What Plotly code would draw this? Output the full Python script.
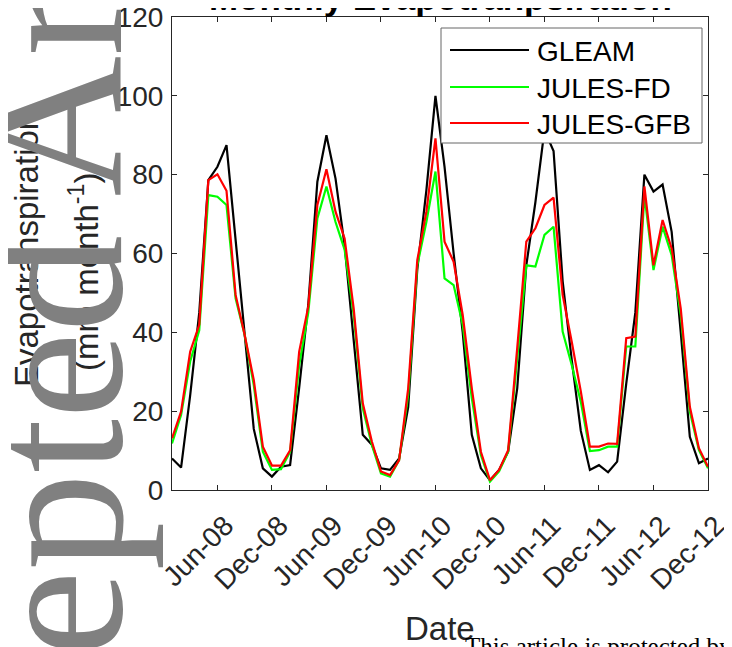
import plotly.graph_objects as go

# ---------------- data ----------------
month_labels = [f"{m}-{y:02d}" for y in range(8, 13)
                for m in ["Jan", "Feb", "Mar", "Apr", "May", "Jun",
                          "Jul", "Aug", "Sep", "Oct", "Nov", "Dec"]]
month_index = list(range(len(month_labels)))

gleam = [8.0, 5.7, 24, 45, 78.6, 82, 87.5, 64, 40, 15.5, 5.5, 3.4,
         5.9, 6.3, 26, 47, 78.2, 90, 79, 62, 38, 14, 11.5, 5.5,
         5.1, 8, 21, 56, 76, 100, 82, 60, 40, 14, 5.5, 2.5,
         5.1, 9.7, 25.8, 57, 73, 91.3, 86, 53, 33, 15, 5.1, 6.3,
         4.5, 7.2, 27, 45, 80, 75.7, 77.5, 65.5, 40, 13.5, 6.8, 8]

jules_fd = [11.8, 19, 32.6, 40.5, 74.8, 74.4, 72.3, 48.6, 39.3, 26.6, 9.7, 5.1,
            5.3, 9.7, 31.7, 45, 68.9, 77, 68, 61, 44.4, 20.7, 11.4, 4.2,
            3.4, 7.6, 24.1, 57, 68, 80.8, 53.7, 52, 41.9, 23.3, 8.9, 2.1,
            4.7, 9.7, 33.4, 57, 56.7, 64.7, 66.8, 40.2, 31.7, 22.4, 9.9, 10.1,
            11, 11, 36.4, 36.4, 74.8, 55.8, 66.8, 59.6, 44.4, 19.9, 10.1, 5.5]

jules_gfb = [13.1, 19.9, 35.1, 41.9, 78.6, 80.1, 75.9, 49.5, 39.3, 27.9, 11, 6.2,
             6.2, 10.1, 35.1, 46.5, 72.3, 81.4, 70.6, 63.8, 46, 22, 12.3, 4.7,
             3.8, 7.6, 25.8, 58.3, 70.6, 89.2, 63, 57.9, 44.4, 25.8, 9.7, 2.5,
             5.1, 10.1, 36, 63, 66.4, 72.3, 74.2, 49.5, 37.6, 25, 11, 11,
             11.8, 11.7, 38.5, 38.9, 77, 57, 68.5, 61.3, 46, 21.1, 10.6, 5.9]

series_names = ["GLEAM", "JULES-FD", "JULES-GFB"]
series_colors = ["#000000", "#00FF00", "#FF0000"]

tick_labels = ["Jun-08", "Dec-08", "Jun-09", "Dec-09", "Jun-10",
               "Dec-10", "Jun-11", "Dec-11", "Jun-12", "Dec-12"]
tick_positions = [month_labels.index(t) for t in tick_labels]
y_ticks = [0, 20, 40, 60, 80, 100, 120]

# ---------------- layout geometry ----------------
OFF = 8                      # default page (body) margin around the figure div
W, H = 732 - OFF, 647 - OFF
PL, PR, PT, PB = 172, 708, 17, 490   # plot area in page pixels


def px(xp):
    return (xp - PL) / (PR - PL)


def py(yp):
    return (PB - yp) / (PB - PT)


fig = go.Figure()
for name, vals, col in zip(series_names, [gleam, jules_fd, jules_gfb], series_colors):
    fig.add_trace(go.Scatter(x=month_index, y=vals, mode="lines", name=name,
                             line=dict(color=col, width=2.2), showlegend=False))

axis_col = "#262626"
tickfont = dict(family="Liberation Sans, Arial", size=28, color=axis_col)

fig.update_layout(
    width=W, height=H,
    margin=dict(l=PL - OFF, r=W - (PR - OFF), t=PT - OFF, b=H - (PB - OFF), pad=0),
    paper_bgcolor="white", plot_bgcolor="white",
    xaxis=dict(range=[0, len(month_index) - 1], tickmode="array",
               tickvals=tick_positions, ticktext=tick_labels, tickangle=-45,
               ticks="inside", ticklen=5, automargin=False, ticklabeloverflow="allow",
               ticklabelstandoff=7, ticklabelshift=8,
               tickcolor=axis_col, showline=True, linecolor=axis_col, linewidth=1,
               mirror="ticks", showgrid=False, zeroline=False, tickfont=tickfont),
    yaxis=dict(range=[0, 120], tickmode="array", tickvals=y_ticks, ticks="inside",
               ticklen=5, automargin=False, ticklabeloverflow="allow",
               ticklabelstandoff=2,
               tickcolor=axis_col, showline=True, linecolor=axis_col, linewidth=1,
               mirror="ticks", showgrid=False, zeroline=False, tickfont=tickfont),
)

# legend (custom drawn, matching the reference's long line samples)
fig.add_shape(type="rect", xref="paper", yref="paper",
              x0=px(441), x1=px(702), y0=py(143), y1=py(28),
              line=dict(color="#666666", width=1), fillcolor="white", layer="above")
for k, (name, col) in enumerate(zip(series_names, series_colors)):
    yc = [50, 87, 123][k]
    fig.add_shape(type="line", xref="paper", yref="paper",
                  x0=px(450), x1=px(529), y0=py(yc), y1=py(yc),
                  line=dict(color=col, width=2.2), layer="above")
    fig.add_annotation(text=name, xref="paper", yref="paper", x=px(535), y=py(yc + 1),
                       xanchor="left", yanchor="middle", showarrow=False,
                       font=dict(family="Liberation Sans, Arial", size=28, color="black"))

# y axis title (two lines)
fig.add_annotation(text="Evapotranspiration", xref="paper", yref="paper",
                   x=px(26), y=py(250), textangle=-90, showarrow=False,
                   xanchor="center", yanchor="middle",
                   font=dict(family="Liberation Sans, Arial", size=33, color=axis_col))
fig.add_annotation(text="(mm month<sup>-1</sup>)", xref="paper", yref="paper",
                   x=px(84), y=py(272), textangle=-90, showarrow=False,
                   xanchor="center", yanchor="middle",
                   font=dict(family="Liberation Sans, Arial", size=33, color=axis_col))

# x axis title
fig.add_annotation(text="Date", xref="paper", yref="paper", x=px(440), y=py(628),
                   showarrow=False, xanchor="center", yanchor="middle",
                   font=dict(family="Liberation Sans, Arial", size=33, color=axis_col))

# chart title (partly cut at the top)
fig.add_annotation(text="<b>Monthly Evapotranpsiration</b>", xref="paper", yref="paper",
                   x=px(440), y=py(-2), showarrow=False, xanchor="center", yanchor="middle",
                   font=dict(family="Liberation Sans, Arial", size=35, color="black"))

# watermark
fig.add_annotation(text="Accepted Article", xref="paper", yref="paper",
                   x=px(55), y=py(313), textangle=-90, showarrow=False,
                   xanchor="center", yanchor="middle",
                   font=dict(family="Liberation Serif", size=195, color="#808080"))

# footer text
fig.add_annotation(text="This article is protected by copyright. All rights reserved.",
                   xref="paper", yref="paper", x=px(463), y=py(646), showarrow=False,
                   xanchor="left", yanchor="middle",
                   font=dict(family="Liberation Serif", size=25, color="black"))

fig.write_html("out.html")
